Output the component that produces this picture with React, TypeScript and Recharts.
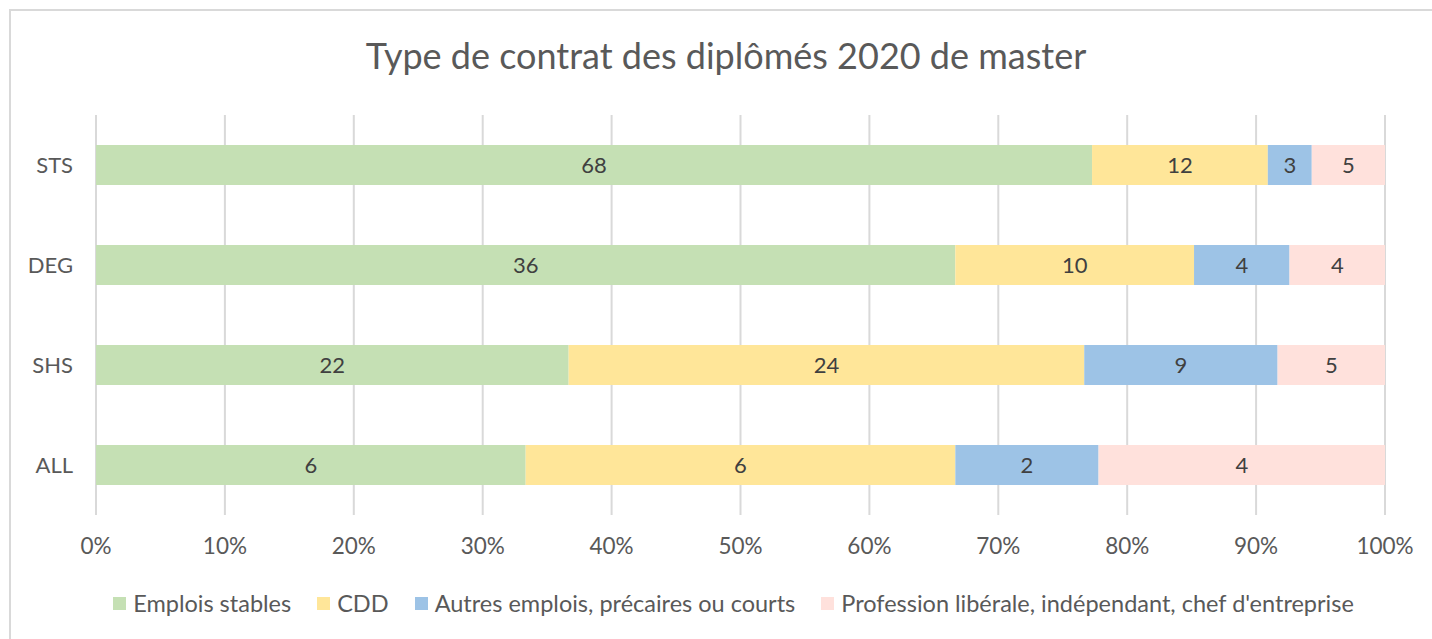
import React from 'react';
import { BarChart, Bar, XAxis, YAxis, CartesianGrid, LabelList, Legend } from 'recharts';

const categories = ['STS', 'DEG', 'SHS', 'ALL'];
const emploisStables = [68, 36, 22, 6];
const cdd = [12, 10, 24, 6];
const autresEmplois = [3, 4, 9, 2];
const professionLiberale = [5, 4, 5, 4];
const xTicks = [0, 0.1, 0.2, 0.3, 0.4, 0.5, 0.6, 0.7, 0.8, 0.9, 1];

const series = [
  { key: 'stable', name: 'Emplois stables', color: '#C5E0B4', values: emploisStables },
  { key: 'cdd', name: 'CDD', color: '#FFE699', values: cdd },
  { key: 'autres', name: 'Autres emplois, précaires ou courts', color: '#9DC3E6', values: autresEmplois },
  { key: 'lib', name: "Profession libérale, indépendant, chef d'entreprise", color: '#FFE1DC', values: professionLiberale },
];

const data = categories.map((cat, i) => {
  const row: Record<string, any> = { cat };
  series.forEach((s) => { row[s.key] = s.values[i]; });
  return row;
});

const FONT = 'Lato, "Open Sans", sans-serif';

const LegendContent = () => (
  <div style={{ display: 'flex', justifyContent: 'center', alignItems: 'center', fontFamily: FONT, fontSize: 23.5, color: '#595959', whiteSpace: 'nowrap', paddingLeft: 82 }}>
    {series.map((s) => (
      <div key={s.key} style={{ display: 'flex', alignItems: 'center', margin: '0 13px' }}>
        <span style={{ display: 'inline-block', width: 13, height: 13, background: s.color, marginRight: 7 }} />
        <span>{s.name}</span>
      </div>
    ))}
  </div>
);

export default function App() {
  return (
    <div style={{ position: 'absolute', left: 0, top: 0, width: 1432, height: 639, background: '#fff', overflow: 'hidden' }}>
      <div style={{ position: 'absolute', left: 9, top: 9, width: 1440, height: 700, borderTop: '2px solid #D9D9D9', borderLeft: '2px solid #D9D9D9' }} />
      <div style={{ position: 'absolute', left: 0, top: 33, width: 1452, textAlign: 'center', fontFamily: FONT, fontSize: 36, color: '#595959' }}>
        Type de contrat des diplômés 2020 de master
      </div>
      <div style={{ position: 'absolute', left: 0, top: 0 }}>
        <BarChart
          width={1432}
          height={639}
          data={data}
          layout="vertical"
          stackOffset="expand"
          barCategoryGap="60%"
          margin={{ top: 115, right: 47, bottom: 20, left: 0 }}
        >
          <CartesianGrid horizontal={false} stroke="#D9D9D9" strokeWidth={2} />
          <XAxis
            type="number"
            domain={[0, 1]}
            ticks={xTicks}
            tickFormatter={(v: number) => `${Math.round(v * 100)}%`}
            axisLine={false}
            tickLine={false}
            tickSize={0}
            tickMargin={23}
            height={74}
            tick={{ fontSize: 22.5, fill: '#595959', fontFamily: FONT }}
            interval={0}
          />
          <YAxis
            type="category"
            dataKey="cat"
            axisLine={false}
            tickLine={false}
            tickSize={0}
            tickMargin={23}
            width={96}
            tick={{ fontSize: 22, fill: '#595959', fontFamily: FONT }}
          />
          {series.map((s) => (
            <Bar key={s.key} dataKey={s.key} name={s.name} stackId="a" fill={s.color} barSize={40} isAnimationActive={false}>
              <LabelList dataKey={s.key} position="center" fill="#404040" fontSize={22} fontFamily={FONT} />
            </Bar>
          ))}
          <Legend verticalAlign="bottom" height={30} content={<LegendContent />} />
        </BarChart>
      </div>
    </div>
  );
}
